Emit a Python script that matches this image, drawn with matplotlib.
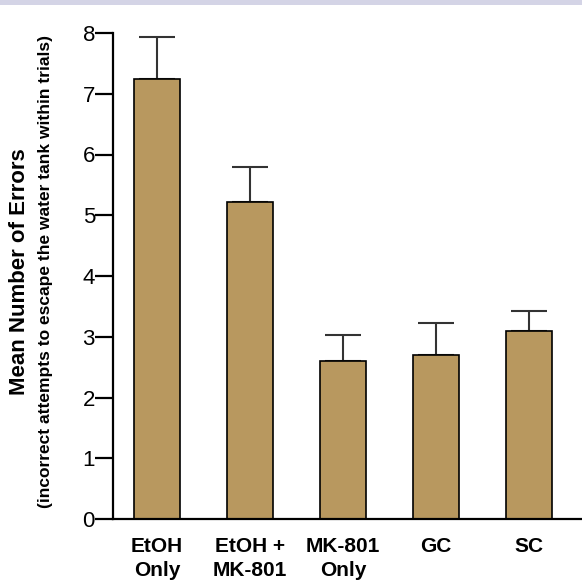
import matplotlib
matplotlib.use("Agg")
import matplotlib.pyplot as plt
from matplotlib.patches import Rectangle

plt.rcParams["font.family"] = ["Liberation Sans", "DejaVu Sans"]

# values
groups = ["EtOH\nOnly", "EtOH +\nMK-801", "MK-801\nOnly", "GC", "SC"]
means = [7.24, 5.21, 2.60, 2.70, 3.10]
errors = [0.69, 0.59, 0.43, 0.53, 0.33]
yticks = [0, 1, 2, 3, 4, 5, 6, 7, 8]

fig = plt.figure(figsize=(5.82, 5.83), dpi=100)
ax = fig.add_axes([113 / 582, 64 / 583, 469 / 582, 486 / 583])

# thin lavender band across the top
fig.add_artist(Rectangle((0, 1 - 5 / 583), 1, 5 / 583, transform=fig.transFigure,
                         facecolor="#d4d4e6", edgecolor="none"))

x = list(range(len(groups)))
ax.bar(x, means, width=0.505, color="#b8985f", edgecolor="black", linewidth=1.2, zorder=2)
ax.errorbar(x, means, yerr=[[0] * len(errors), errors], fmt="none", ecolor="#333333",
            elinewidth=1.5, capsize=13, capthick=1.5, zorder=1)

ax.set_xlim(-0.473, 4.57)
ax.set_ylim(0, 8)
ax.set_yticks(yticks)
ax.set_xticks(x)
ax.set_xticklabels(groups, fontsize=15, fontweight="bold", linespacing=1.3)

for s in ["top", "right"]:
    ax.spines[s].set_visible(False)
ax.spines["left"].set_linewidth(1.6)
ax.spines["bottom"].set_linewidth(1.6)
ax.tick_params(axis="y", length=13, width=1.6, labelsize=16, pad=0)
ax.tick_params(axis="x", length=0, pad=13)

# two-line y label, centred on the axes
yc = 1 - 272 / 583
fig.text(20 / 582, yc, "Mean Number of Errors", rotation=90, fontsize=16,
         fontweight="bold", ha="center", va="center")
fig.text(46 / 582, yc, "(incorrect attempts to escape the water tank within trials)",
         rotation=90, fontsize=12.5, fontweight="bold", ha="center", va="center")

plt.savefig("out.png", dpi=100)
